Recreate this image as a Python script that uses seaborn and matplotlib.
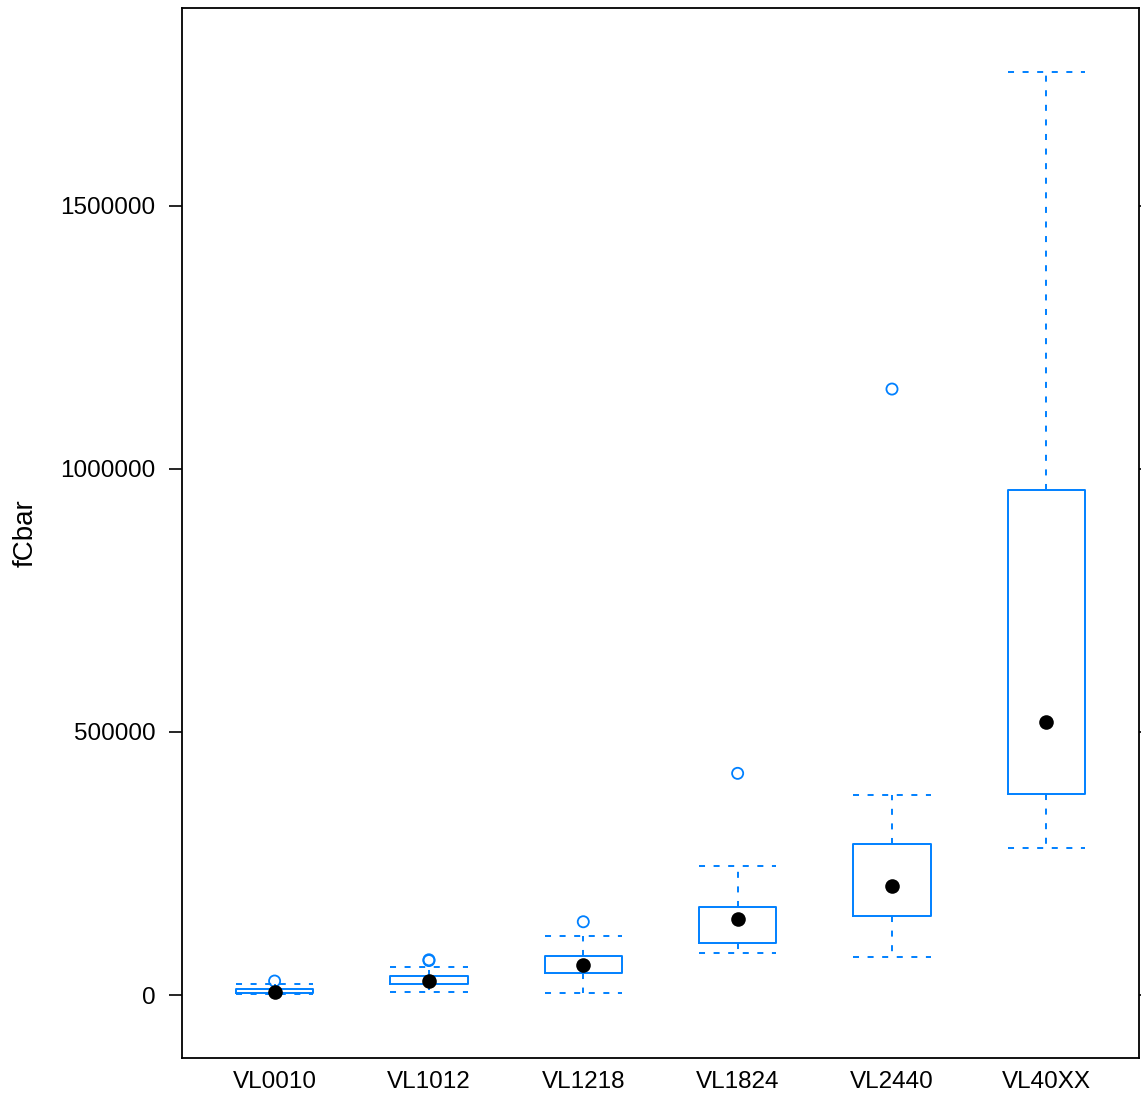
import matplotlib
matplotlib.use('Agg')
import matplotlib.pyplot as plt
import seaborn as sns

# summary statistics
groups = ['VL0010', 'VL1012', 'VL1218', 'VL1824', 'VL2440', 'VL40XX']
whisk_lo = [1900, 6300, 3200, 79300, 72800, 279400]
q1 = [3200, 20300, 42400, 98300, 150700, 382100]
medians = [6300, 27200, 57000, 143900, 207200, 518900]
q3 = [11400, 36100, 74100, 167800, 286500, 960000]
whisk_hi = [21500, 53800, 112700, 245800, 380200, 1754500]
outlier_groups = ['VL0010', 'VL1012', 'VL1012', 'VL1218', 'VL1824', 'VL2440']
outlier_values = [26600, 65500, 67000, 139300, 421400, 1151900]

blue = '#0080ff'

sns.set_theme(style='white')
plt.rcParams['font.family'] = ['Liberation Sans', 'DejaVu Sans']
plt.rcParams['text.color'] = 'black'
plt.rcParams['axes.labelcolor'] = 'black'
plt.rcParams['xtick.color'] = 'black'
plt.rcParams['ytick.color'] = 'black'

fig = plt.figure(figsize=(11.41, 10.98), dpi=100)
ax = fig.add_axes([0.1595, 0.0364, 0.8387, 0.9563])

stats = []
for i in range(len(groups)):
    stats.append(dict(whislo=whisk_lo[i], q1=q1[i], med=medians[i], q3=q3[i],
                      whishi=whisk_hi[i], fliers=[]))

dash = (0, (3.1, 4.4))
ax.bxp(stats, positions=range(len(groups)), widths=0.5, capwidths=0.5,
       showfliers=False, manage_ticks=False,
       boxprops=dict(color=blue, linewidth=1.4),
       whiskerprops=dict(color=blue, linewidth=1.4, linestyle=dash),
       capprops=dict(color=blue, linewidth=1.4, linestyle=dash),
       medianprops=dict(linewidth=0))

# outliers: open circles
n_before = len(ax.collections)
sns.stripplot(x=outlier_groups, y=outlier_values, order=groups, jitter=False,
              size=8, color=blue, ax=ax, zorder=3)
for pts in ax.collections[n_before:]:
    pts.set_facecolor('none')
    pts.set_edgecolor(blue)
    pts.set_linewidth(1.3)

# medians: filled black dots
sns.stripplot(x=groups, y=medians, order=groups, jitter=False,
              size=10.5, color='black', linewidth=0, ax=ax, zorder=4)

ax.set_xlim(-0.6, 5.6)
ax.set_ylim(-119760, 1876200)
ax.set_yticks([0, 500000, 1000000, 1500000])
ax.set_yticklabels(['0', '500000', '1000000', '1500000'])
ax.set_xlabel('')
ax.set_ylabel('fCbar', fontsize=20)
ax.yaxis.set_label_coords(-0.15, 0.5)

ax.tick_params(axis='y', left=True, right=True, direction='out', length=9.5,
               width=1.2, color='black', labelsize=17.5, pad=9.5)
ax.tick_params(axis='x', bottom=False, labelsize=17.5, pad=3)
for s in ax.spines.values():
    s.set_visible(True)
    s.set_color('black')
    s.set_linewidth(1.3)
ax.grid(False)

fig.savefig('out.png', dpi=100)
